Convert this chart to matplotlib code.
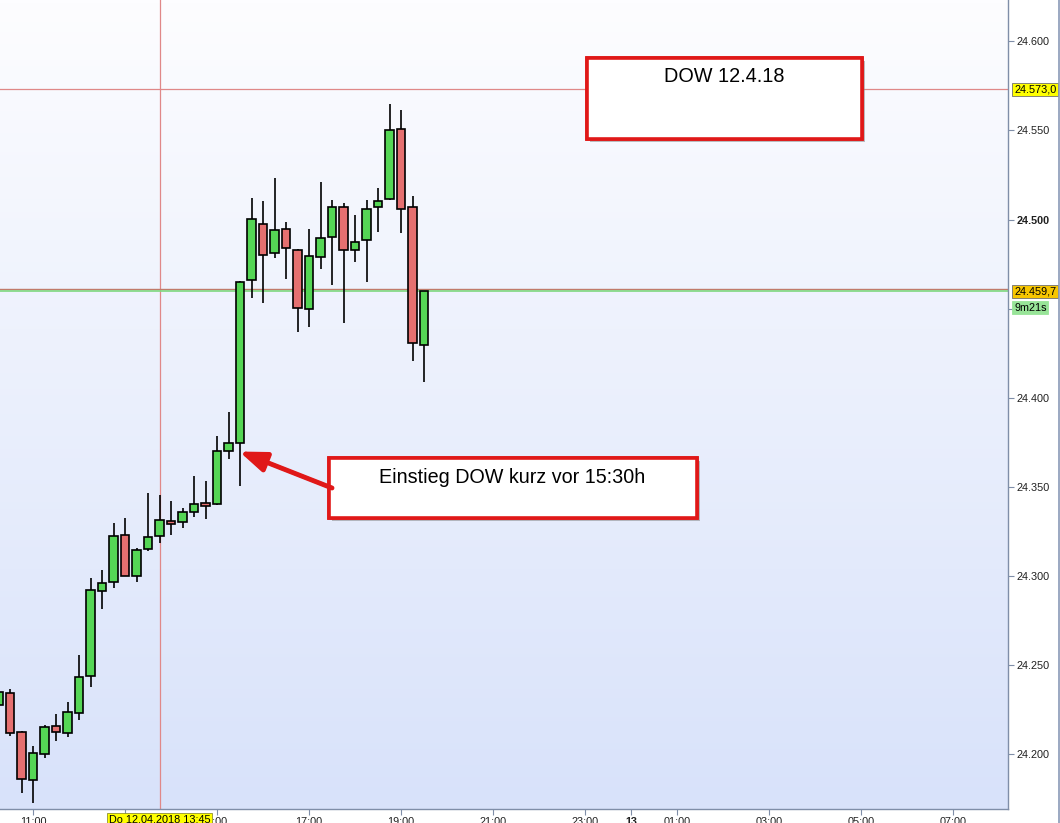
import numpy as np
import matplotlib
matplotlib.use("Agg")
import matplotlib.pyplot as plt
import matplotlib.patheffects as pe
from matplotlib.colors import LinearSegmentedColormap
from matplotlib.patches import Rectangle
from matplotlib.lines import Line2D
import matplotlib.transforms as mtransforms

plt.rcParams["font.family"] = ["Liberation Sans", "DejaVu Sans"]

# 15-minute candles, DOW 12.04.2018
times = ["10:15", "10:30", "10:45", "11:00", "11:15", "11:30", "11:45", "12:00",
         "12:15", "12:30", "12:45", "13:00", "13:15", "13:30", "13:45", "14:00",
         "14:15", "14:30", "14:45", "15:00", "15:15", "15:30", "15:45", "16:00",
         "16:15", "16:30", "16:45", "17:00", "17:15", "17:30", "17:45", "18:00",
         "18:15", "18:30", "18:45", "19:00", "19:15", "19:30"]
opens = [24227.8, 24234.4, 24212.5, 24185.6, 24200.2, 24215.9, 24211.9, 24223.2,
         24243.7, 24291.5, 24296.6, 24322.9, 24300.3, 24314.9, 24322.2, 24330.8,
         24330.2, 24336.2, 24340.9, 24340.3, 24370.4, 24374.5, 24466.0, 24497.8,
         24481.0, 24494.5, 24483.2, 24449.6, 24478.8, 24490.0, 24507.3, 24482.7,
         24488.3, 24506.8, 24511.3, 24550.8, 24506.8, 24429.8]
highs = [24237.0, 24236.6, 24213.2, 24204.8, 24216.2, 24222.7, 24229.3, 24255.8,
         24298.8, 24303.5, 24329.7, 24332.4, 24315.6, 24346.5, 24345.5, 24342.2,
         24338.2, 24356.2, 24353.4, 24378.6, 24392.0, 24465.5, 24512.0, 24510.3,
         24523.2, 24498.5, 24483.5, 24494.6, 24521.0, 24510.9, 24509.4, 24502.3,
         24510.9, 24517.8, 24565.1, 24561.7, 24513.1, 24460.0]
lows = [24224.0, 24210.0, 24178.3, 24172.7, 24197.9, 24207.4, 24209.5, 24219.4,
        24237.5, 24281.4, 24293.2, 24299.9, 24296.4, 24314.1, 24318.8, 24323.1,
        24327.2, 24333.4, 24332.2, 24340.0, 24365.7, 24350.7, 24455.8, 24453.3,
        24478.5, 24466.4, 24436.7, 24439.9, 24472.4, 24463.4, 24441.8, 24476.3,
        24465.1, 24493.1, 24511.0, 24492.5, 24420.8, 24409.0]
closes = [24235.1, 24211.9, 24186.3, 24200.7, 24215.3, 24212.5, 24223.7, 24243.3,
          24292.1, 24296.0, 24322.4, 24299.9, 24314.5, 24321.8, 24331.3, 24329.4,
          24335.8, 24340.3, 24339.5, 24370.0, 24374.7, 24464.7, 24500.1, 24479.9,
          24493.9, 24483.8, 24450.2, 24479.3, 24489.4, 24506.8, 24483.2, 24487.7,
          24506.2, 24510.7, 24550.3, 24506.2, 24430.5, 24459.7]

crosshair_time = "13:45"
crosshair_price = 24573.0
last_price = 24459.7
prev_line = 24461.3
countdown = "9m21s"

y_ticks = [24200, 24250, 24300, 24350, 24400, 24450, 24500, 24550, 24600]
x_ticks = [11, 13, 15, 17, 19, 21, 23, 24, 25, 27, 29, 31]
x_labels = ["11:00", "", "5:00", "17:00", "19:00", "21:00", "23:00", "13",
            "01:00", "03:00", "05:00", "07:00"]


def to_hours(t):
    h, m = t.split(":")
    return int(h) + int(m) / 60


x = np.array([to_hours(t) for t in times])
o = np.array(opens)
h = np.array(highs)
l = np.array(lows)
c = np.array(closes)

fig = plt.figure(figsize=(10.6, 8.23), dpi=100)
ax = fig.add_axes([0, 14 / 823, 1008 / 1060, 809 / 823])

# background gradient
cmap = LinearSegmentedColormap.from_list("bg", ["#d8e2fa", "#fdfdff"])
grad = np.linspace(0, 1, 256).reshape(-1, 1)
ax.imshow(grad, extent=[0, 1, 0, 1], transform=ax.transAxes, cmap=cmap,
          aspect="auto", origin="lower", zorder=0)

up = c >= o
colors = np.where(up, "#55d655", "#e57070")
ax.vlines(x, l, h, color="black", lw=1.2, zorder=2)
body_h = np.maximum(np.abs(c - o), 1.0)
ax.bar(x, body_h, bottom=np.minimum(o, c), width=0.18, color=colors,
       edgecolor="black", linewidth=1.2, zorder=3)

# crosshair and price lines
ax.axvline(to_hours(crosshair_time), color="#e08888", lw=0.9, zorder=1)
ax.axhline(crosshair_price, color="#e08888", lw=0.9, zorder=1)
ax.axhline(prev_line, color="#c07a6a", lw=1.0, zorder=1)
ax.axhline(last_price, color="#7ed87e", lw=1.2, zorder=1)

ax.set_xlim(11 - 33 / 46, 11 + 975 / 46)
ax.set_ylim(24169.3, 24623.2)

for s in ["top", "left"]:
    ax.spines[s].set_visible(False)
for s in ["bottom", "right"]:
    ax.spines[s].set_color("#7f8ea8")
    ax.spines[s].set_linewidth(1.0)

ax.yaxis.tick_right()
ax.set_yticks(y_ticks)
ylabels = ax.set_yticklabels(
    ["" if v == 24450 else f"{v:,.0f}".replace(",", ".") for v in y_ticks])
for v, lab in zip(y_ticks, ylabels):
    if v == 24500:
        lab.set_fontweight("bold")
        lab.set_fontsize(9)
ax.tick_params(axis="y", length=4, width=0.8, color="#7f8ea8", labelsize=7.8,
               pad=2, labelcolor="#202020")

ax.set_xticks(x_ticks)
xlabels = ax.set_xticklabels(x_labels)
for lab in xlabels:
    if lab.get_text() == "13":
        lab.set_fontweight("bold")
        lab.set_fontsize(9)
ax.tick_params(axis="x", length=4, width=0.8, color="#7f8ea8", labelsize=7.8,
               pad=2, labelcolor="#202020")

# right side price labels
ytrans = mtransforms.blended_transform_factory(ax.transAxes, ax.transData)
ax.text(1.006, crosshair_price, "24.573,0", transform=ytrans, ha="left",
        va="center", fontsize=7.8,
        bbox=dict(boxstyle="square,pad=0.15", fc="#ffff00", ec="#707070", lw=0.6))
ax.text(1.006, last_price, "24.459,7", transform=ytrans, ha="left",
        va="center", fontsize=7.8, zorder=6,
        bbox=dict(boxstyle="square,pad=0.15", fc="#f7c600", ec="#707070", lw=0.6))
ax.text(1.006, 24450.6, countdown, transform=ytrans, ha="left",
        va="center", fontsize=7.8, zorder=5,
        bbox=dict(boxstyle="square,pad=0.15", fc="#98e498", ec="#98e498", lw=0.6))

# date label on x axis
xtrans = mtransforms.blended_transform_factory(ax.transData, ax.transAxes)
ax.text(to_hours(crosshair_time), -0.0135, "Do 12.04.2018 13:45", transform=xtrans,
        ha="center", va="center", fontsize=7.8, zorder=6,
        bbox=dict(boxstyle="square,pad=0.15", fc="#ffff00", ec="#909030", lw=0.6))

# annotation boxes
shadow = [pe.withSimplePatchShadow(offset=(2.5, -2.5), shadow_rgbFace="#808080",
                                   alpha=0.5), pe.Normal()]
box1 = Rectangle((587 / 1008, 1 - 139 / 809), 275 / 1008, 81 / 809,
                 transform=ax.transAxes, fc="white", ec="#e01818", lw=2.6,
                 zorder=7, path_effects=shadow)
ax.add_patch(box1)
ax.text(724 / 1008, 1 - 76 / 809, "DOW 12.4.18", transform=ax.transAxes,
        ha="center", va="center", fontsize=14.3, zorder=8)

box2 = Rectangle((329 / 1008, 1 - 518 / 809), 368 / 1008, 60 / 809,
                 transform=ax.transAxes, fc="white", ec="#e01818", lw=2.6,
                 zorder=7, path_effects=shadow)
ax.add_patch(box2)
ax.text(512 / 1008, 1 - 477 / 809, "Einstieg DOW kurz vor 15:30h",
        transform=ax.transAxes, ha="center", va="center", fontsize=14.2, zorder=8)

ax.annotate("", xy=(15.52, 24369.5), xytext=(332 / 1008, 1 - 488 / 809),
            textcoords="axes fraction", zorder=7,
            arrowprops=dict(arrowstyle="-|>,head_length=1.6,head_width=0.6",
                            color="#e01818", lw=2.6, shrinkA=0, shrinkB=0,
                            path_effects=[pe.withStroke(linewidth=3.5,
                                                        foreground="#e01818")]))

fig.add_artist(Line2D([1058.5 / 1060] * 2, [0, 1], transform=fig.transFigure,
                      color="#8a9ab8", lw=1.2))

fig.savefig("out.png", dpi=100)
